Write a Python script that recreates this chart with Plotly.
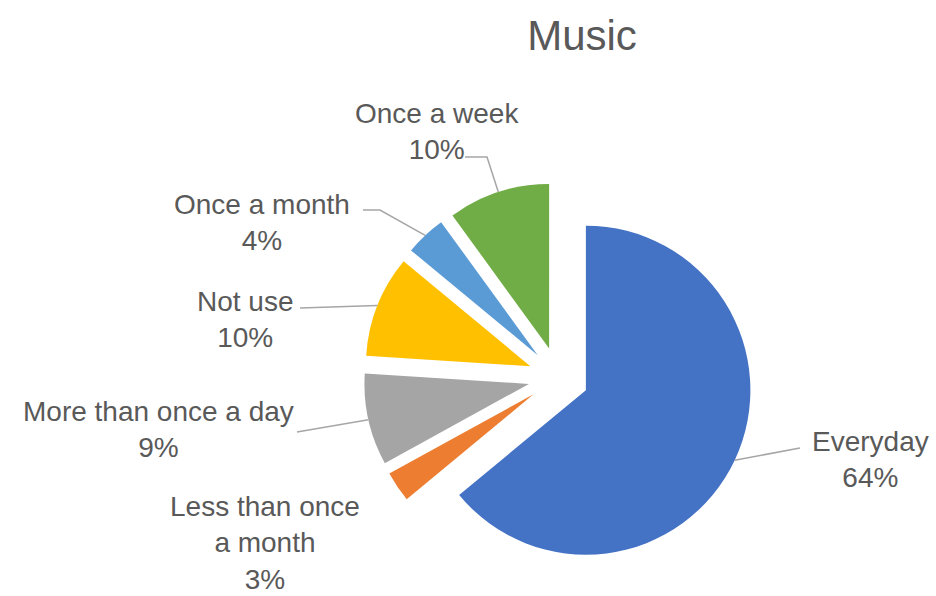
import math
import plotly.graph_objects as go

# Music usage frequency (share of respondents, %)
categories = ["Everyday", "Less than once a month", "More than once a day",
              "Not use", "Once a month", "Once a week"]
shares = [64, 3, 9, 10, 4, 10]
label_lines = ["Everyday", "Less than once<br>a month", "More than once a day",
               "Not use", "Once a month", "Once a week"]
colors = ["#4472C4", "#ED7D31", "#A5A5A5", "#FFC000", "#5B9BD5", "#70AD47"]

# Canvas and pie geometry (pixels)
W, H = 936, 596
CX, CY, R = 558.5, 377.3, 164.5
PULL = 0.184
HALF = R * (1 + PULL)

# Label centres and leader-line start points (pixels), per category
label_centres = [(870, 459), (265, 543), (158, 429), (245, 319), (262, 222), (437, 131)]
leader_starts = [
    [(800, 448)],
    None,
    [(297, 432)],
    [(300, 308)],
    [(363, 210), (380, 210)],
    [(465, 157), (487, 157)],
]

TEXT_COLOR = "#595959"
LINE_COLOR = "#A6A6A6"
FONT = "Liberation Sans, Arial, sans-serif"


def px(x, y):
    return x / W, 1 - y / H


fig = go.Figure(
    go.Pie(
        labels=categories,
        values=shares,
        sort=False,
        direction="clockwise",
        rotation=0,
        pull=[PULL] * len(shares),
        marker=dict(colors=colors, line=dict(width=0)),
        textinfo="none",
        hoverinfo="label+percent",
        showlegend=False,
        domain=dict(
            x=[(CX - HALF) / W, (CX + HALF) / W],
            y=[1 - (CY + HALF) / H, 1 - (CY - HALF) / H],
        ),
    )
)

total = sum(shares)
annotations = []
shapes = []
cum = 0.0
for name, text, v, centre, start in zip(categories, label_lines, shares,
                                        label_centres, leader_starts):
    mid = (cum + v / 2) / total * 2 * math.pi
    cum += v
    dx, dy = math.sin(mid), -math.cos(mid)
    # outer arc midpoint of the pulled slice
    ax = CX + (PULL * R + R) * dx
    ay = CY + (PULL * R + R) * dy

    lx, ly = px(*centre)
    annotations.append(dict(
        x=lx, y=ly, xref="paper", yref="paper",
        text=f"{text}<br>{round(v / total * 100)}%",
        showarrow=False, align="center",
        xanchor="center", yanchor="middle",
        font=dict(family=FONT, size=28, color=TEXT_COLOR),
    ))
    if start:
        pts = [px(*p) for p in start] + [px(ax, ay)]
        path = "M " + " L ".join(f"{x:.5f},{y:.5f}" for x, y in pts)
        shapes.append(dict(type="path", xref="paper", yref="paper", path=path,
                           line=dict(color=LINE_COLOR, width=1.5)))

fig.update_layout(
    width=W, height=H,
    margin=dict(l=0, r=0, t=0, b=0),
    paper_bgcolor="white",
    plot_bgcolor="white",
    title=dict(
        text="Music",
        x=582 / W, xanchor="center",
        y=1 - 35 / H, yanchor="middle",
        font=dict(family=FONT, size=42, color=TEXT_COLOR),
    ),
    annotations=annotations,
    shapes=shapes,
)

fig.write_html("out.html")
